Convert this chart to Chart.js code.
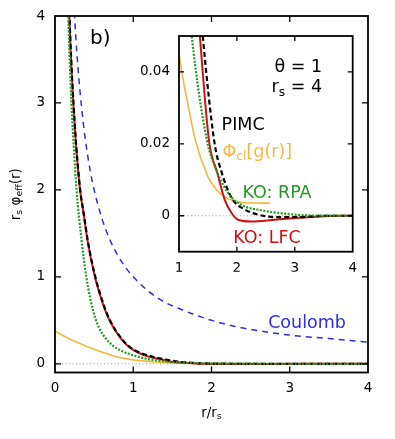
<!DOCTYPE html>
<html>
<head>
<meta charset="utf-8">
<script src="https://cdn.jsdelivr.net/npm/chart.js@4.4.1/dist/chart.umd.min.js"></script>
<style>
  body { margin: 0; background: #fff; }
  #wrap { position: relative; width: 395px; height: 439px; }
  #main { position: absolute; left: 0; top: 0; }
  #inset { position: absolute; left: 130px; top: 30px; }
</style>
</head>
<body>
<div id="wrap">
  <canvas id="main" width="395" height="439"></canvas>
  <canvas id="inset" width="235" height="250"></canvas>
</div>
<script>
// Données (r/rs, rs*phi_eff)
const coulR = [0.24, 0.25, 0.28, 0.32, 0.36, 0.4, 0.45, 0.5, 0.6, 0.7, 0.8, 0.9, 1.0, 1.2, 1.4, 1.6, 1.8, 2.0, 2.3, 2.6, 3.0, 3.5, 4.0];
const coulV = [4.17, 4.0, 3.57, 3.13, 2.78, 2.5, 2.22, 2.0, 1.67, 1.43, 1.25, 1.11, 1.0, 0.83, 0.71, 0.63, 0.56, 0.5, 0.43, 0.38, 0.33, 0.29, 0.25];

const lfcR = [0.165, 0.183, 0.205, 0.234, 0.27, 0.32, 0.37, 0.415, 0.51, 0.58, 0.64, 0.72, 0.85, 0.95, 1.06, 1.2, 1.36, 1.52, 1.66, 1.79, 1.91, 2.02, 2.25, 2.66, 3.23, 3.9, 4.0];
const lfcV = [4.6, 4.0, 3.5, 3.0, 2.5, 2.0, 1.7, 1.42, 1.0, 0.78, 0.62, 0.46, 0.28, 0.19, 0.13, 0.083, 0.05, 0.0206, 0.012, 0.0044, 0.0007, -0.0011, -0.0016, -0.0011, -0.0004, 0.0, 0.0];

const pimcR = [0.167, 0.185, 0.207, 0.236, 0.272, 0.322, 0.372, 0.418, 0.515, 0.585, 0.645, 0.725, 0.86, 0.96, 1.08, 1.24, 1.41, 1.61, 1.74, 1.91, 2.14, 2.37, 2.66, 3.06, 3.5, 4.0];
const pimcV = [4.6, 4.0, 3.5, 3.0, 2.5, 2.0, 1.7, 1.42, 1.0, 0.78, 0.62, 0.46, 0.28, 0.19, 0.13, 0.083, 0.05, 0.0206, 0.0119, 0.0049, 0.0017, 0.0003, -0.0004, -0.0004, 0.0, 0.0];

const rpaR = [0.15, 0.17, 0.19, 0.21, 0.24, 0.275, 0.34, 0.40, 0.49, 0.56, 0.64, 0.74, 0.85, 1.1, 1.22, 1.48, 1.62, 1.85, 2.08, 2.43, 2.83, 3.22, 4.0];
const rpaV = [4.8, 4.0, 3.45, 3.0, 2.5, 2.0, 1.42, 1.0, 0.6, 0.42, 0.3, 0.21, 0.15, 0.072, 0.05, 0.0211, 0.0137, 0.0063, 0.003, 0.0015, 0.0006, 0.0001, 0.0];

const clR = [0, 0.1, 0.2, 0.3, 0.43, 0.55, 0.65, 0.75, 0.85, 1.0, 1.16, 1.29, 1.5, 1.62, 1.74, 1.97, 2.2, 2.57];
const clV = [0.375, 0.325, 0.28, 0.24, 0.19, 0.15, 0.12, 0.09, 0.068, 0.0452, 0.0305, 0.0206, 0.0109, 0.0078, 0.0058, 0.004, 0.0036, 0.0035];

const zeroR = [0, 4];
const zeroV = [0, 0];

const mainXTicks = [0, 1, 2, 3, 4];
const mainYTicks = [0, 1, 2, 3, 4];
const insetXTicks = [1, 2, 3, 4];
const insetYTicks = [0, 0.02, 0.04];

const FONT = '"DejaVu Sans", sans-serif';
const RED = '#cc1111', GREEN = '#229922', BLUE = '#2e2ee0', ORANGE = '#f6b83c';

Chart.defaults.font.family = FONT;
Chart.defaults.color = '#000';

function line(xs, ys, color, width, dash, order) {
    return {
        data: xs.map((x, i) => ({ x: x, y: ys[i] })),
        borderColor: color,
        borderWidth: width,
        borderDash: dash,
        pointRadius: 0,
        fill: false,
        cubicInterpolationMode: 'monotone',
        order: order
    };
}

// texte avec indices (sub)
function drawRich(ctx, parts, x, y, size, color, align) {
    let w = 0;
    parts.forEach(([t, sub]) => {
        ctx.font = (sub ? size * 0.7 : size) + 'px ' + FONT;
        w += ctx.measureText(t).width;
    });
    let cx = align === 'right' ? x - w : (align === 'center' ? x - w / 2 : x);
    ctx.fillStyle = color;
    ctx.textAlign = 'left';
    ctx.textBaseline = 'alphabetic';
    parts.forEach(([t, sub]) => {
        ctx.font = (sub ? size * 0.7 : size) + 'px ' + FONT;
        ctx.fillText(t, cx, sub ? y + size * 0.22 : y);
        cx += ctx.measureText(t).width;
    });
}

// cadre + graduations vers l'intérieur (style gnuplot)
function framePlugin(len) {
    return {
        id: 'frame',
        beforeDatasetsDraw(chart) {
            const a = chart.chartArea, ctx = chart.ctx;
            ctx.save();
            ctx.fillStyle = '#fff';
            ctx.fillRect(a.left, a.top, a.width, a.height);
            ctx.restore();
        },
        afterDatasetsDraw(chart) {
            const { ctx, chartArea: a, scales: { x, y } } = chart;
            ctx.save();
            ctx.strokeStyle = '#000';
            ctx.lineWidth = 1.3;
            ctx.beginPath();
            x.ticks.forEach(t => {
                if (t.value === x.min || t.value === x.max) return;
                const px = x.getPixelForValue(t.value);
                ctx.moveTo(px, a.bottom); ctx.lineTo(px, a.bottom - len);
                ctx.moveTo(px, a.top); ctx.lineTo(px, a.top + len);
            });
            y.ticks.forEach(t => {
                if (t.value === y.min || t.value === y.max) return;
                const py = y.getPixelForValue(t.value);
                ctx.moveTo(a.left, py); ctx.lineTo(a.left + len, py);
                ctx.moveTo(a.right, py); ctx.lineTo(a.right - len, py);
            });
            ctx.stroke();
            ctx.lineWidth = 1.8;
            ctx.strokeRect(a.left, a.top, a.width, a.height);
            ctx.restore();
        }
    };
}

function notesPlugin(items, extra) {
    return {
        id: 'notes',
        afterDraw(chart) {
            const { ctx, scales: { x, y } } = chart;
            ctx.save();
            items.forEach(it => {
                drawRich(ctx, it.parts, x.getPixelForValue(it.x), y.getPixelForValue(it.y),
                    it.size, it.color, it.align || 'left');
            });
            if (extra) extra(chart);
            ctx.restore();
        }
    };
}

function scaleOpts(min, max, ticks, fmt, pad, fitSize, horizontal) {
    return {
        type: 'linear',
        min: min,
        max: max,
        grid: { display: false, drawTicks: false },
        border: { display: false },
        afterBuildTicks: s => { s.ticks = ticks.map(v => ({ value: v })); },
        afterFit: s => {
            if (horizontal) { s.height = fitSize; s.paddingLeft = 0; s.paddingRight = 0; }
            else { s.width = fitSize; s.paddingTop = 0; s.paddingBottom = 0; }
        },
        ticks: {
            font: { size: 13.5 },
            color: '#000',
            padding: pad,
            maxRotation: 0,
            autoSkip: false,
            callback: fmt
        }
    };
}

const mainNotes = [
    { parts: [['b)', 0]], x: 0.447, y: 3.673, size: 20, color: '#000' },
    { parts: [['Coulomb', 0]], x: 2.724, y: 0.415, size: 17.5, color: BLUE }
];

const insetNotes = [
    { parts: [['θ = 1', 0]], x: 3.471, y: 0.0401, size: 17.5, color: '#000', align: 'right' },
    { parts: [['r', 0], ['s', 1], [' = 4', 0]], x: 3.471, y: 0.03436, size: 17.5, color: '#000', align: 'right' },
    { parts: [['PIMC', 0]], x: 1.736, y: 0.02389, size: 17.5, color: '#000' },
    { parts: [['Φ', 0], ['cl', 1], ['[g(r)]', 0]], x: 1.753, y: 0.01647, size: 17.5, color: ORANGE },
    { parts: [['KO: RPA', 0]], x: 2.098, y: 0.00492, size: 17.5, color: GREEN },
    { parts: [['KO: LFC', 0]], x: 1.936, y: -0.00758, size: 17.5, color: RED }
];

function axisTitles(chart) {
    const { ctx, chartArea: a } = chart;
    drawRich(ctx, [['r/r', 0], ['s', 1]], (a.left + a.right) / 2, a.bottom + 44, 13.5, '#000', 'center');
    ctx.save();
    ctx.translate(a.left - 35.5, (a.top + a.bottom) / 2);
    ctx.rotate(-Math.PI / 2);
    drawRich(ctx, [['r', 0], ['s', 1], [' φ', 0], ['eff', 1], ['(r)', 0]], 0, 0, 13.5, '#000', 'center');
    ctx.restore();
}

// Graphique principal
new Chart(document.getElementById('main'), {
    type: 'line',
    data: {
        datasets: [
            line(zeroR, zeroV, '#999', 1, [1, 2.5], 5),
            line(coulR, coulV, BLUE, 1.5, [6, 5], 4),
            line(clR, clV, ORANGE, 1.6, [], 3),
            line(lfcR, lfcV, RED, 2, [], 2),
            line(pimcR, pimcV, '#000', 2.2, [5, 3], 1),
            line(rpaR, rpaV, GREEN, 2.2, [2, 1.5], 0)
        ]
    },
    options: {
        responsive: false,
        animation: false,
        devicePixelRatio: 1,
        layout: { padding: { left: 0, top: 16, right: 27, bottom: 26.5 } },
        plugins: { legend: { display: false }, tooltip: { enabled: false } },
        scales: {
            x: scaleOpts(0, 4, mainXTicks, v => String(v), 8, 40, true),
            y: scaleOpts(-0.1, 4, mainYTicks, v => String(v), 10, 55, false)
        }
    },
    plugins: [framePlugin(6), notesPlugin(mainNotes, axisTitles)]
});

// Encart (zoom)
new Chart(document.getElementById('inset'), {
    type: 'line',
    data: {
        datasets: [
            line(zeroR, zeroV, '#999', 1, [1, 2.5], 5),
            line(clR, clV, ORANGE, 1.6, [], 3),
            line(lfcR, lfcV, RED, 2, [], 2),
            line(pimcR, pimcV, '#000', 2.2, [5, 3], 1),
            line(rpaR, rpaV, GREEN, 2.2, [2, 1.5], 0)
        ]
    },
    options: {
        responsive: false,
        animation: false,
        devicePixelRatio: 1,
        layout: { padding: { left: 0, top: 6, right: 12.3, bottom: 8.3 } },
        plugins: { legend: { display: false }, tooltip: { enabled: false } },
        scales: {
            x: scaleOpts(1, 4, insetXTicks, v => String(v), 9, 20, true),
            y: scaleOpts(-0.01, 0.05, insetYTicks, v => (v === 0 ? '0' : v.toFixed(2)), 9, 49, false)
        }
    },
    plugins: [framePlugin(5), notesPlugin(insetNotes)]
});
</script>
</body>
</html>
